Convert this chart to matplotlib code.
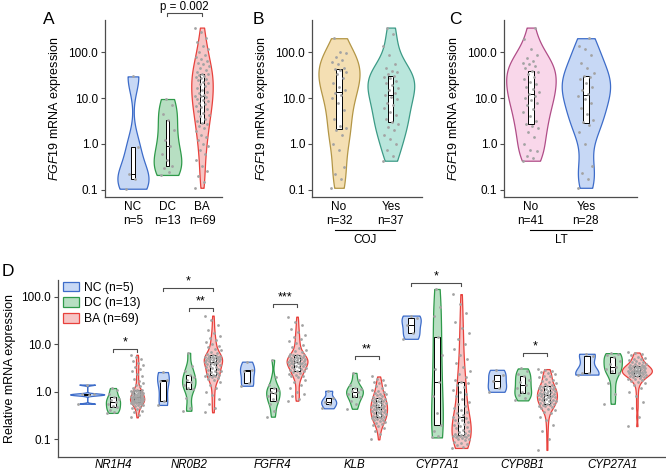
import numpy as np
import matplotlib
matplotlib.use("Agg")
import matplotlib.pyplot as plt
from matplotlib.patches import Patch

plt.rcParams["font.family"] = ["Liberation Sans", "DejaVu Sans"]
plt.rcParams["mathtext.fontset"] = "custom"
plt.rcParams["mathtext.rm"] = "Liberation Sans"
plt.rcParams["mathtext.it"] = "Liberation Sans:italic"

# ---- panel A: FGF19 by group ----
a_groups = ["NC\nn=5", "DC\nn=13", "BA\nn=69"]
a_nc = [0.105, 0.17, 0.22, 0.85, 30]
a_dc = [0.21, 0.24, 0.3, 0.33, 0.45, 0.6, 0.9, 1.2, 2.0, 3.3, 4.5, 7.0, 9.6]
a_ba = [0.11, 0.15, 0.2, 0.25, 0.33, 0.45, 0.6, 0.75, 0.9, 1.0, 1.2, 1.4, 1.6, 1.9, 2.2, 2.5, 2.7,
        2.9,
        3.2, 3.6, 4.0, 4.4, 4.8, 5.3, 5.8, 6.3, 6.9, 7.5, 8.0, 8.6, 9.2, 9.8, 10.4, 11.0,
        11.4,
        12, 13, 14, 15.5, 17, 18.5, 20, 21.5, 23, 24.5, 26, 27.5, 29, 30.5, 32, 33,
        34,
        37, 41, 45, 50, 55, 60, 66, 73, 80, 90, 100, 120, 140, 170, 210, 280, 350]
a_pvalue = "p = 0.002"

# ---- panel B: COJ ----
b_groups = ["No\nn=32", "Yes\nn=37"]
b_no = [0.11, 0.17, 0.22, 0.32, 0.75, 1.0, 1.6, 2.0, 2.2, 2.5, 3.5, 5.5, 8, 10, 12, 13,
        15, 18, 22, 28, 33, 38, 42, 44, 46, 55, 62, 70, 80, 95, 100, 205]
b_yes = [0.43, 0.55, 0.75, 1.0, 1.3, 1.6, 2.0, 2.4, 2.7, 3.0, 3.5, 4.2, 5, 6, 7, 8, 9.5, 10.5,
         11.5, 13, 15, 17, 19, 21, 24, 27, 29, 31, 34, 37, 40, 45, 55, 90, 140, 250, 350]

# ---- panel C: LT ----
c_groups = ["No\nn=41", "Yes\nn=28"]
c_no = [0.43, 0.5, 0.55, 0.7, 0.75, 1.0, 1.4, 1.8, 2.2, 2.5, 2.7, 3.2, 4, 5, 5.8, 7, 8, 9, 10, 11,
        12.3, 14, 16, 18, 20, 23, 26, 29, 33, 37, 40, 45, 50, 55, 60, 65, 75, 90, 120, 200, 350]
c_yes = [0.11, 0.17, 0.23, 0.33, 1.0, 1.8, 2.6, 3.0, 3.3, 4.5, 6, 8, 9.5, 11, 12.5, 15, 18, 22,
         26, 29, 30, 35, 45, 60, 90, 120, 140, 205]

# ---- panel D: relative expression per gene ----
genes = ["NR1H4", "NR0B2", "FGFR4", "KLB", "CYP7A1", "CYP8B1", "CYP27A1"]
d_labels = ["NC (n=5)", "DC (n=13)", "BA (n=69)"]

nr1h4_nc = [0.56, 0.85, 0.88, 0.91, 1.42]
nr1h4_dc = [0.36, 0.38, 0.42, 0.47, 0.5, 0.55, 0.62, 0.66, 0.7, 0.76, 0.9, 1.1, 1.2]
nr1h4_ba = [0.29, 0.33, 0.37, 0.4, 0.43, 0.46, 0.48, 0.5, 0.52, 0.54, 0.55, 0.56, 0.57, 0.58, 0.59, 0.6, 0.61,
            0.62, 0.63, 0.64, 0.65, 0.66, 0.67, 0.68, 0.69, 0.7, 0.71, 0.72, 0.73, 0.74, 0.75, 0.76, 0.77, 0.775,
            0.78, 0.8, 0.82, 0.84, 0.86, 0.88, 0.9, 0.92, 0.94, 0.96, 0.98, 1.0, 1.02, 1.04, 1.06, 1.08, 1.09,
            1.1, 1.2, 1.3, 1.4, 1.5, 1.7, 1.9, 2.1, 2.4, 2.7, 3.0, 3.3, 3.6, 4.0, 4.5, 5.0, 5.5, 6.0]

nr0b2_nc = [0.53, 0.65, 1.7, 1.8, 2.6]
nr0b2_dc = [0.4, 0.45, 0.75, 1.15, 1.2, 1.4, 1.6, 1.8, 2.0, 2.3, 2.8, 3.5, 6.6]
nr0b2_ba = [0.37, 0.45, 0.55, 0.7, 0.85, 1.0, 1.2, 1.4, 1.6, 1.75, 1.85, 1.95, 2.0, 2.1, 2.15, 2.2, 2.25,
            2.3, 2.4, 2.5, 2.6, 2.7, 2.8, 2.9, 3.0, 3.1, 3.25, 3.4, 3.5, 3.6, 3.75, 3.9, 4.0, 4.1,
            4.2, 4.3, 4.4, 4.5, 4.6, 4.7, 4.8, 4.9, 5.0, 5.1, 5.2, 5.3, 5.4, 5.5, 5.6, 5.7, 5.75,
            5.8, 6.2, 6.6, 7.0, 7.5, 8.0, 8.6, 9.3, 10, 11, 12, 13.5, 15, 17, 20, 25, 32, 40]

fgfr4_nc = [1.34, 1.5, 2.7, 2.9, 4.3]
fgfr4_dc = [0.3, 0.4, 0.55, 0.65, 0.7, 0.8, 0.94, 1.0, 1.1, 1.2, 1.4, 2.0, 4.7]
fgfr4_ba = [0.65, 0.7, 0.8, 0.9, 1.0, 1.2, 1.4, 1.6, 1.8, 2.0, 2.1, 2.2, 2.3, 2.4, 2.5, 2.6, 2.7,
            2.75, 2.85, 2.95, 3.05, 3.15, 3.25, 3.35, 3.45, 3.55, 3.65, 3.75, 3.85, 3.9, 4.0, 4.05, 4.1, 4.15,
            4.2, 4.3, 4.4, 4.5, 4.6, 4.7, 4.8, 4.9, 5.0, 5.1, 5.2, 5.3, 5.45, 5.6, 5.7, 5.8, 5.9,
            6.0, 6.3, 6.7, 7.1, 7.6, 8.2, 8.8, 9.5, 10.5, 11.5, 13, 14.5, 16, 18, 21, 25, 30, 38]

klb_nc = [0.45, 0.55, 0.62, 0.74, 1.05]
klb_dc = [0.44, 0.55, 0.65, 0.76, 0.82, 0.9, 0.98, 1.05, 1.15, 1.23, 1.4, 1.8, 2.5]
klb_ba = [0.1, 0.13, 0.15, 0.17, 0.19, 0.2, 0.21, 0.22, 0.23, 0.24, 0.25, 0.26, 0.27, 0.28, 0.285, 0.29, 0.295,
          0.3, 0.31, 0.32, 0.33, 0.34, 0.35, 0.36, 0.37, 0.38, 0.39, 0.4, 0.41, 0.42, 0.43, 0.44, 0.45, 0.46,
          0.47, 0.48, 0.5, 0.51, 0.52, 0.54, 0.55, 0.57, 0.58, 0.6, 0.62, 0.63, 0.65, 0.67, 0.69, 0.71, 0.72,
          0.74, 0.77, 0.8, 0.84, 0.88, 0.92, 0.96, 1.0, 1.05, 1.1, 1.2, 1.3, 1.4, 1.5, 1.6, 1.75, 1.9, 2.1]

cyp7a1_nc = [13, 17, 25, 35, 40]
cyp7a1_dc = [0.11, 0.12, 0.15, 0.2, 0.35, 0.8, 1.6, 3.0, 6.0, 14, 40, 60, 145]
cyp7a1_ba = [0.066, 0.07, 0.075, 0.08, 0.085, 0.09, 0.095, 0.1, 0.1, 0.105, 0.11, 0.11, 0.115, 0.115, 0.12, 0.12, 0.122,
             0.125, 0.13, 0.135, 0.14, 0.15, 0.16, 0.17, 0.18, 0.19, 0.2, 0.21, 0.22, 0.23, 0.25, 0.26, 0.28, 0.29,
             0.3, 0.32, 0.35, 0.38, 0.42, 0.46, 0.5, 0.55, 0.6, 0.7, 0.8, 0.9, 1.0, 1.1, 1.25, 1.4, 1.5,
             1.6, 1.8, 2.0, 2.4, 2.8, 3.3, 4, 5, 6, 8, 10, 13, 17, 22, 30, 45, 70, 113]

cyp8b1_nc = [1.0, 1.2, 1.65, 2.3, 2.9]
cyp8b1_dc = [0.66, 0.75, 0.85, 0.93, 1.0, 1.2, 1.4, 1.6, 1.8, 2.1, 2.4, 2.8, 3.1]
cyp8b1_ba = [0.06, 0.1, 0.15, 0.2, 0.25, 0.3, 0.35, 0.38, 0.41, 0.44, 0.46, 0.48, 0.5, 0.51, 0.52, 0.53, 0.55,
             0.56, 0.58, 0.6, 0.62, 0.63, 0.65, 0.66, 0.68, 0.7, 0.71, 0.73, 0.75, 0.76, 0.78, 0.8, 0.82, 0.84,
             0.85, 0.87, 0.9, 0.92, 0.94, 0.96, 0.98, 1.0, 1.03, 1.06, 1.09, 1.12, 1.15, 1.18, 1.21, 1.24, 1.27,
             1.3, 1.35, 1.4, 1.45, 1.5, 1.6, 1.7, 1.8, 1.9, 2.0, 2.1, 2.2, 2.35, 2.5, 2.6, 2.75, 2.9, 3.0]

cyp27a1_nc = [2.3, 2.5, 2.5, 5.7, 6.3]
cyp27a1_dc = [0.56, 0.9, 1.5, 2.5, 2.7, 3.0, 3.3, 3.8, 4.5, 5.3, 5.8, 6.2, 6.5]
cyp27a1_ba = [0.19, 0.3, 0.45, 0.6, 0.8, 1.0, 1.2, 1.4, 1.5, 1.6, 1.7, 1.8, 1.85, 1.9, 1.95, 2.0, 2.05,
              2.1, 2.15, 2.2, 2.25, 2.3, 2.35, 2.4, 2.42, 2.45, 2.5, 2.52, 2.55, 2.58, 2.6, 2.63, 2.66, 2.68,
              2.7, 2.75, 2.8, 2.85, 2.9, 2.95, 3.0, 3.05, 3.1, 3.15, 3.2, 3.25, 3.3, 3.35, 3.4, 3.45, 3.48,
              3.5, 3.6, 3.7, 3.8, 3.9, 4.0, 4.15, 4.3, 4.45, 4.6, 4.8, 5.0, 5.2, 5.5, 5.8, 6.1, 6.4, 6.7]

d_data = [
    [nr1h4_nc, nr1h4_dc, nr1h4_ba],
    [nr0b2_nc, nr0b2_dc, nr0b2_ba],
    [fgfr4_nc, fgfr4_dc, fgfr4_ba],
    [klb_nc, klb_dc, klb_ba],
    [cyp7a1_nc, cyp7a1_dc, cyp7a1_ba],
    [cyp8b1_nc, cyp8b1_dc, cyp8b1_ba],
    [cyp27a1_nc, cyp27a1_dc, cyp27a1_ba],
]
# significance brackets: gene, group i, group j, height, label
d_sig = [(0, 1, 2, 7.9, "*"), (1, 0, 2, 149, "*"), (1, 1, 2, 57, "**"),
         (2, 1, 2, 69, "***"), (3, 1, 2, 5.7, "**"), (4, 0, 2, 190, "*"),
         (5, 1, 2, 6.5, "*")]

# ---- styling ----
NC_F, NC_E = "#c7d8f5", "#3d6cc9"
DC_F, DC_E = "#b7dfc2", "#2f9a4a"
BA_F, BA_E = "#f6c5c5", "#e8413c"
grp_face = [NC_F, DC_F, BA_F]
grp_edge = [NC_E, DC_E, BA_E]
gene_x = [0, 0.91, 1.92, 2.9, 3.89, 4.92, 6.0]
dodge = [-0.31, 0, 0.29]
d_widths = [[0.41, 0.17, 0.17], [0.14, 0.16, 0.22], [0.17, 0.16, 0.25], [0.18, 0.2, 0.2],
            [0.23, 0.14, 0.23], [0.22, 0.2, 0.24], [0.28, 0.22, 0.36]]
SPINE = "#4d4d4d"
PT = "#a3a3a3"


def kde(vals, npts=300):
    x = np.log10(np.asarray(vals, float))
    n = len(x)
    sd = x.std(ddof=1)
    q1, q3 = np.percentile(x, [25, 75])
    lo = min(sd, (q3 - q1) / 1.34)
    if lo <= 0:
        lo = sd
    bw = 0.9 * lo * n ** -0.2
    grid = np.linspace(x.min(), x.max(), npts)
    dens = np.exp(-0.5 * ((grid[:, None] - x[None, :]) / bw) ** 2).sum(1) / (n * bw * np.sqrt(2 * np.pi))
    return x, grid, dens


def draw_group(ax, vals, pos, half, dmax, face, edge, box_w, jit):
    x, grid, dens = kde(vals)
    w = half * dens / dmax
    ax.fill_betweenx(grid, pos - w, pos + w, facecolor=face, edgecolor=edge, lw=0.9, zorder=2)
    ax.boxplot(x, positions=[pos], widths=box_w, whis=0, showcaps=False, showfliers=False,
               patch_artist=True, manage_ticks=False,
               boxprops=dict(facecolor="white", edgecolor="black", lw=0.7),
               medianprops=dict(color="black", lw=0.7),
               whiskerprops=dict(lw=0), zorder=3)
    offs = (((np.arange(len(x)) * 0.618034) % 1) - 0.5) * 2 * jit
    ax.scatter(pos + offs, x, s=4, color=PT, lw=0, zorder=4)


def style(ax, ylim):
    for s in ["top", "right"]:
        ax.spines[s].set_visible(False)
    for s in ["left", "bottom"]:
        ax.spines[s].set_color(SPINE)
        ax.spines[s].set_linewidth(0.9)
    ax.set_ylim(ylim)
    ax.set_yticks([-1, 0, 1, 2])
    ax.set_yticklabels(["0.1", "1.0", "10.0", "100.0"])
    ax.tick_params(axis="y", length=3, width=0.8, color=SPINE, labelsize=8.5, pad=2)
    ax.tick_params(axis="x", length=0, labelsize=8.5, pad=3)


def small_panel(ax, groups, datas, faces, edges, xlim, jit):
    dmax = max(kde(v)[2].max() for v in datas)
    for i, (v, f, e) in enumerate(zip(datas, faces, edges)):
        draw_group(ax, v, i + 1, 0.45, dmax, f, e, 0.1, jit)
    style(ax, (-1.16, 2.71))
    ax.set_xlim(xlim)
    ax.set_xticks(range(1, len(groups) + 1))
    ax.set_xticklabels(groups)
    ax.set_ylabel(r"$\mathit{FGF19}$ mRNA expression", fontsize=9, labelpad=4)


fig = plt.figure(figsize=(6.66, 4.72), dpi=100)
axA = fig.add_axes([105 / 666, 1 - 197 / 472, 117 / 666, 177 / 472])
axB = fig.add_axes([312 / 666, 1 - 197 / 472, 110 / 666, 177 / 472])
axC = fig.add_axes([504 / 666, 1 - 197 / 472, 133 / 666, 177 / 472])
axD = fig.add_axes([58 / 666, 1 - 456.5 / 472, 608 / 666, 176.5 / 472])

small_panel(axA, a_groups, [a_nc, a_dc, a_ba], grp_face, grp_edge, (0.19, 3.58), 0.2)
small_panel(axB, b_groups, [b_no, b_yes], ["#f4dfb3", "#b9e6dc"], ["#b39646", "#3c9a86"], (0.48, 2.6), 0.15)
small_panel(axC, c_groups, [c_no, c_yes], ["#f9d7ea", "#c7d8f5"], ["#b04d88", "#3d6cc9"], (0.51, 2.93), 0.15)

# p-value bracket in A
axA.plot([2, 2, 3, 3], [2.8, 2.87, 2.87, 2.8], color=SPINE, lw=0.8, clip_on=False)
axA.text(2.5, 2.925, a_pvalue, ha="center", va="baseline", fontsize=8.3)

# category labels under B and C
for ax, lab, x0, x1 in [(axB, "COJ", 0.92, 2.08), (axC, "LT", 0.98, 2.11)]:
    tr = ax.get_xaxis_transform()
    ax.plot([x0, x1], [-0.188, -0.188], color="black", lw=0.8, transform=tr, clip_on=False)
    ax.text((x0 + x1) / 2, -0.245, lab, transform=tr, ha="center", va="center", fontsize=8.5)

# panel D
for g, groups in enumerate(d_data):
    for k, vals in enumerate(groups):
        w = d_widths[g][k]
        dens_max = kde(vals)[2].max()
        draw_group(axD, vals, gene_x[g] + dodge[k], w / 2, dens_max, grp_face[k], grp_edge[k],
                   0.065, min(0.11, 0.45 * w))
style(axD, (-1.36, 2.35))
axD.set_xlim(-0.66, 6.64)
axD.set_xticks(gene_x)
axD.set_xticklabels(genes, style="italic", fontsize=8.3)
axD.tick_params(axis="x", pad=1.5)
axD.set_ylabel("Relative mRNA expression", fontsize=9, labelpad=4)

for g, i, j, h, lab in d_sig:
    y = np.log10(h)
    x0, x1 = gene_x[g] + dodge[i], gene_x[g] + dodge[j]
    axD.plot([x0, x0, x1, x1], [y - 0.06, y, y, y - 0.06], color=SPINE, lw=0.8, clip_on=False)
    axD.text((x0 + x1) / 2, y + 0.01, lab, ha="center", va="bottom", fontsize=9)

handles = [Patch(facecolor=f, edgecolor=e, lw=0.9) for f, e in zip(grp_face, grp_edge)]
axD.legend(handles, d_labels, loc="upper left", bbox_to_anchor=(0.008, 0.99), frameon=False,
           fontsize=8.7, handlelength=1.35, handleheight=0.85, handletextpad=0.4,
           labelspacing=0.3, borderpad=0, borderaxespad=0)

for lab, x, y in [("A", 43, 19), ("B", 253, 19), ("C", 449, 19), ("D", 2, 271)]:
    fig.text(x / 666, 1 - y / 472, lab, fontsize=12.5, ha="left", va="center")

fig.savefig("out.png", dpi=100)
